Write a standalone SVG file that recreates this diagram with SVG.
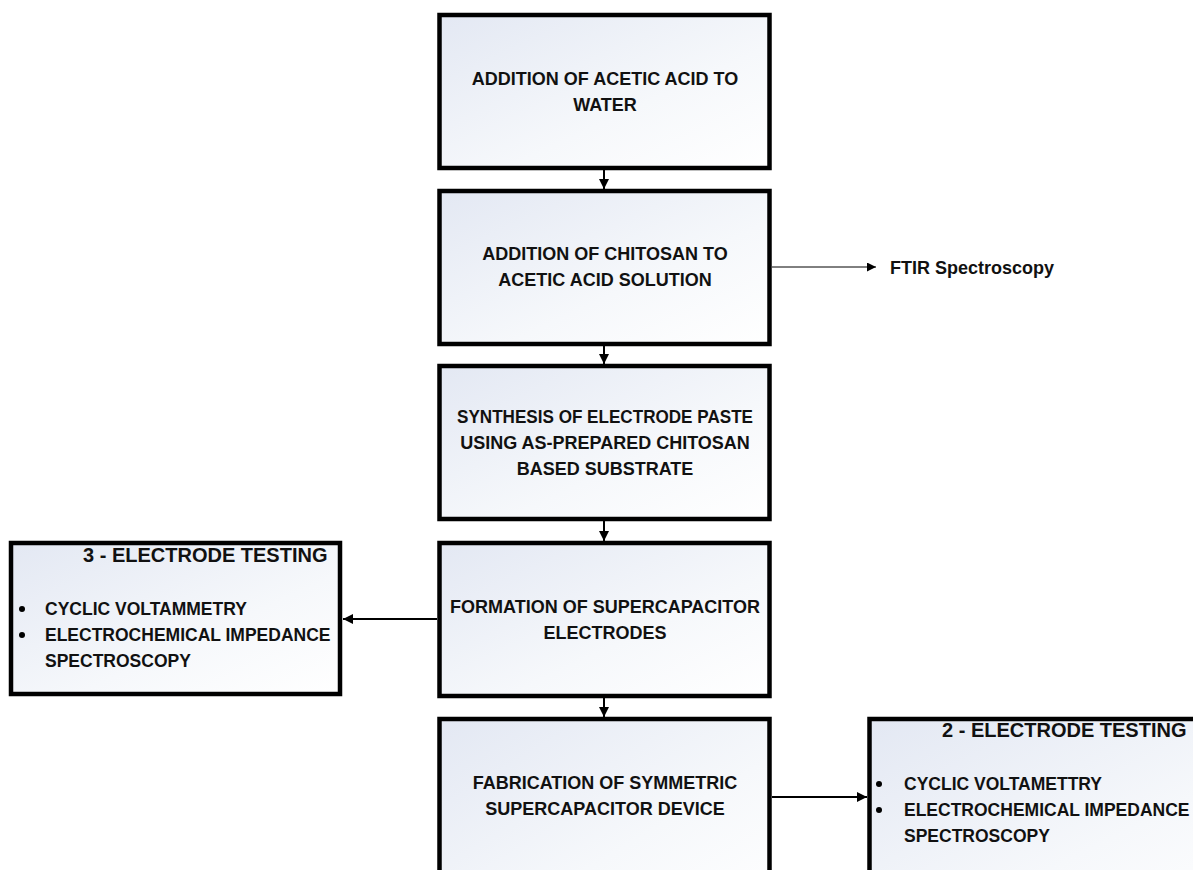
<svg xmlns="http://www.w3.org/2000/svg" width="1193" height="870" viewBox="0 0 1193 870">
<defs>
<linearGradient id="g" x1="0" y1="0" x2="1" y2="1">
<stop offset="0" stop-color="#e3e8f3"/>
<stop offset="0.6" stop-color="#f6f8fb"/>
<stop offset="1" stop-color="#ffffff"/>
</linearGradient>
<marker id="ah" viewBox="0 0 10 10" refX="10" refY="5" markerWidth="11" markerHeight="10" markerUnits="userSpaceOnUse" orient="auto">
<path d="M0,0 L10,5 L0,10 z" fill="#000"/>
</marker>
<marker id="ahs" viewBox="0 0 10 10" refX="10" refY="5" markerWidth="11" markerHeight="9" markerUnits="userSpaceOnUse" orient="auto">
<path d="M0,0 L10,5 L0,10 z" fill="#000"/>
</marker>
</defs>
<style>
.box{fill:url(#g);stroke:#000;stroke-width:4.5}
.t{font-family:"Liberation Sans",Arial,sans-serif;font-weight:bold;font-size:18px;fill:#111}
.c{text-anchor:middle}
.h{font-size:20px}
.b{font-size:17.5px}
.ln{stroke:#000;stroke-width:2;fill:none}
.thin{stroke:#000;stroke-width:1;fill:none}
</style>
<rect width="1193" height="870" fill="#fff"/>

<g id="n1">
<rect class="box" x="439.5" y="15" width="330" height="153"/>
<text class="t c" x="605" y="85">ADDITION OF ACETIC ACID TO</text>
<text class="t c" x="605" y="111">WATER</text>
</g>
<g id="n2">
<rect class="box" x="439.5" y="191" width="330" height="153"/>
<text class="t c" x="605" y="260">ADDITION OF CHITOSAN TO</text>
<text class="t c" x="605" y="286">ACETIC ACID SOLUTION</text>
</g>
<g id="n3">
<rect class="box" x="439.5" y="366" width="330" height="153"/>
<text class="t c" x="605" y="423" textLength="296" lengthAdjust="spacingAndGlyphs">SYNTHESIS OF ELECTRODE PASTE</text>
<text class="t c" x="605" y="449">USING AS-PREPARED CHITOSAN</text>
<text class="t c" x="605" y="475">BASED SUBSTRATE</text>
</g>
<g id="n4">
<rect class="box" x="439.5" y="543" width="330" height="153"/>
<text class="t c" x="605" y="613">FORMATION OF SUPERCAPACITOR</text>
<text class="t c" x="605" y="639">ELECTRODES</text>
</g>
<g id="n5">
<rect class="box" x="439.5" y="719" width="330" height="200"/>
<text class="t c" x="605" y="789">FABRICATION OF SYMMETRIC</text>
<text class="t c" x="605" y="815">SUPERCAPACITOR DEVICE</text>
</g>
<g id="ftir">
<text class="t" x="890" y="274">FTIR Spectroscopy</text>
</g>
<g id="test3">
<rect class="box" x="11" y="543" width="329" height="151"/>
<text class="t h" x="83" y="562">3 - ELECTRODE TESTING</text>
<circle cx="22" cy="609" r="3"/>
<circle cx="22" cy="635" r="3"/>
<text class="t b" x="45" y="615">CYCLIC VOLTAMMETRY</text>
<text class="t b" x="45" y="641">ELECTROCHEMICAL IMPEDANCE</text>
<text class="t b" x="45" y="667">SPECTROSCOPY</text>
</g>
<g id="test2">
<rect class="box" x="869.5" y="719" width="400" height="200"/>
<text class="t h" x="942" y="737">2 - ELECTRODE TESTING</text>
<circle cx="879" cy="784" r="3"/>
<circle cx="879" cy="810" r="3"/>
<text class="t b" x="904" y="790">CYCLIC VOLTAMETTRY</text>
<text class="t b" x="904" y="816">ELECTROCHEMICAL IMPEDANCE</text>
<text class="t b" x="904" y="842">SPECTROSCOPY</text>
</g>

<g id="connectors">
<line class="ln" x1="604" y1="170" x2="604" y2="189" marker-end="url(#ah)"/>
<line class="ln" x1="604" y1="346" x2="604" y2="364" marker-end="url(#ah)"/>
<line class="ln" x1="604" y1="521" x2="604" y2="541" marker-end="url(#ah)"/>
<line class="ln" x1="604" y1="698" x2="604" y2="717" marker-end="url(#ah)"/>
<line class="thin" x1="772" y1="267" x2="876" y2="267" marker-end="url(#ahs)"/>
<line class="ln" x1="437" y1="619" x2="343" y2="619" marker-end="url(#ah)"/>
<line class="ln" x1="772" y1="797" x2="867" y2="797" marker-end="url(#ah)"/>
</g>
</svg>
